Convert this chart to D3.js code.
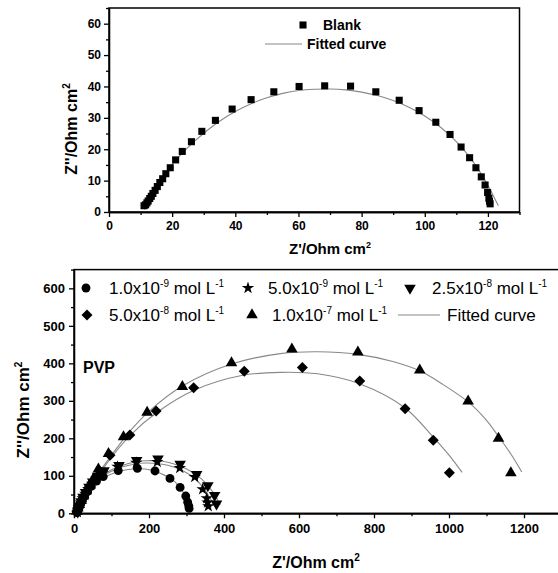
<!DOCTYPE html>
<meta charset="utf-8">
<title>Nyquist plots</title>
<style>
body {
  margin: 0;
  background: #fff;
}

svg {
  display: block;
  font-family: "Liberation Sans", Arial, sans-serif;
}

.tick text {
  font-weight: bold;
  fill: #000;
}

.axis path, .axis line {
  stroke: #000;
  stroke-width: 1.3;
}

.fit {
  fill: none;
  stroke: #888;
  stroke-width: 1.1;
}

.frame {
  fill: none;
  stroke: #000;
  stroke-width: 1.5;
}
</style>
<body>
<svg width="558" height="573"></svg>

<script src="https://d3js.org/d3.v7.min.js"></script>
<script>
// ---- top panel: blank electrode, [Z', Z''] ----
var blankPts = [[11.1,2.0],[11.6,2.3],[12.0,2.9],[12.4,3.5],[12.9,4.3],[13.4,5.0],[13.9,5.9],
  [14.6,6.9],[15.3,8.1],[16.1,9.4],[17.0,10.6],[18.0,12.2],[19.4,14.1],[21.1,16.6],[23.2,19.3],
  [26.1,22.4],[29.4,25.7],[33.7,29.2],[39.0,32.8],[45.0,35.8],[52.2,38.3],[60.2,40.0],[68.3,40.2],
  [76.5,40.1],[84.5,38.3],[91.9,35.6],[98.2,32.3],[103.5,28.6],[108.0,24.7],[111.5,20.7],
  [114.2,17.3],[116.2,14.1],[117.9,11.2],[119.1,8.6],[119.9,6.2],[120.3,4.4],[120.5,3.4],[120.7,2.6]];

var blankFit = [[11.2,0.8],[12,2.6],[13,4.6],[14,6.5],[16,9.8],[18,12.6],[20,15.2],[25,20.6],
  [30,25.1],[35,28.9],[40,32.0],[45,34.5],[50,36.4],[55,37.8],[60,38.7],[65,39.1],[70,39.2],
  [75,38.9],[80,38.2],[85,37.1],[90,35.5],[95,33.4],[100,30.6],[105,27.0],[110,22.4],[114,17.8],
  [117,13.5],[119.5,9.4],[121.5,5.6],[123.3,2.0]];

var topXTicks = [0, 20, 40, 60, 80, 100, 120];
var topYTicks = [0, 10, 20, 30, 40, 50, 60];

// ---- bottom panel: PVP at five concentrations ----
var mantissa = ["1.0", "5.0", "2.5", "5.0", "1.0"];
var exponent = ["-9", "-9", "-8", "-8", "-7"];

var pvp1 = [[8,2],[10,8],[13,16],[17,25],[22,35],[28,46],[36,58],[46,72],[60,86],[78,98],
  [118,114],[169,120],[216,113],[256,93],[283,69],[298,46],[303,30],[306,20],[307,13]];
var pvp2 = [[9,3],[11,10],[14,19],[18,29],[23,40],[30,52],[38,65],[48,79],[60,93],[76,107],
  [116,124],[166,135],[222,137],[282,121],[322,97],[343,64],[354,40],[356,29],[358,19]];
var pvp3 = [[10,4],[12,11],[15,20],[19,31],[24,43],[31,56],[40,70],[50,84],[63,99],[80,114],
  [120,128],[167,141],[224,145],[283,131],[327,104],[357,74],[375,48],[380,25]];
var pvp4 = [[8,4],[11,12],[15,21],[20,31],[26,43],[33,56],[42,71],[52,86],[69,112],[96,155],
  [149,209],[219,273],[319,335],[454,379],[609,389],[762,353],[883,279],[958,195],[1001,108]];
var pvp5 = [[7,6],[10,14],[14,23],[19,34],[25,46],[32,59],[40,73],[50,89],[65,118],[92,159],
  [132,204],[195,269],[289,338],[420,401],[581,438],[757,430],[922,382],[1051,299],[1132,200],[1165,108]];

var fit1 = [[6,0],[12,12],[20,28],[30,45],[45,65],[60,80],[80,95],[100,105],[130,114],[160,118],
  [190,118],[220,111],[250,97],[270,83],[285,66],[296,46],[302,28],[306,10]];
var fit2 = [[6,0],[12,12],[20,28],[30,46],[45,68],[60,85],[80,101],[100,112],[130,124],[160,131],
  [190,134],[220,133],[250,128],[280,118],[310,102],[335,80],[352,58],[364,38],[372,20]];
var fit3 = [[6,0],[12,12],[20,28],[30,46],[45,68],[60,86],[80,103],[100,116],[130,128],[160,136],
  [190,140],[220,140],[250,136],[280,127],[310,113],[340,92],[362,68],[378,45],[390,22]];
var fit4 = [[8,0],[15,15],[25,35],[40,60],[60,92],[80,122],[100,150],[150,208],[220,268],[320,328],
  [450,368],[550,376],[650,372],[763,345],[883,281],[958,203],[1000,155],[1035,109]];
var fit5 = [[6,0],[15,18],[25,38],[40,64],[60,98],[80,128],[100,155],[150,220],[200,272],[290,340],
  [420,398],[550,426],[650,431],[757,424],[850,405],[922,380],[980,346],[1051,297],[1100,248],
  [1132,205],[1165,158],[1194,110]];

var bottomXTicks = [0, 200, 400, 600, 800, 1000, 1200];
var bottomYTicks = [0, 100, 200, 300, 400, 500, 600];

var svg = d3.select("svg");
var plain = d3.format("d");

// symbol shapes per series
var squareSym = d3.symbol().type(d3.symbolSquare).size(50);
var shapes = [
  {sym: d3.symbol().type(d3.symbolCircle).size(62), rot: 0},
  {sym: d3.symbol().type(d3.symbolStar).size(48), rot: 0},
  {sym: d3.symbol().type(d3.symbolTriangle).size(58), rot: 180},
  {sym: d3.symbol().type(d3.symbolSquare).size(60), rot: 45},
  {sym: d3.symbol().type(d3.symbolTriangle).size(58), rot: 0}
];

function sup(text, base, power, fs) {
  // base text followed by a small raised number
  text.append("tspan").text(base);
  text.append("tspan").attr("font-size", fs).attr("dy", -fs * 0.7).text(power);
}

/*********** top panel ***********/
var xT = d3.scaleLinear().domain([0, 130]).range([109, 519.5]);
var yT = d3.scaleLinear().domain([0, 65]).range([212, 8]);

svg.append("rect").attr("class", "frame")
    .attr("x", 109).attr("y", 8).attr("width", 410.5).attr("height", 204);

svg.append("g").attr("class", "axis")
    .attr("transform", "translate(0,212)")
    .call(d3.axisBottom(xT).tickValues(d3.range(10, 131, 20)).tickSize(3).tickSizeOuter(0).tickFormat(""));
svg.append("g").attr("class", "axis")
    .attr("transform", "translate(0,212)")
    .call(d3.axisBottom(xT).tickValues(topXTicks).tickSize(5).tickSizeOuter(0).tickPadding(4))
    .selectAll("text").attr("font-size", 12);

svg.append("g").attr("class", "axis")
    .attr("transform", "translate(109,0)")
    .call(d3.axisLeft(yT).tickValues(d3.range(5, 66, 10)).tickSize(3).tickSizeOuter(0).tickFormat(""));
svg.append("g").attr("class", "axis")
    .attr("transform", "translate(109,0)")
    .call(d3.axisLeft(yT).tickValues(topYTicks).tickSize(5).tickSizeOuter(0).tickPadding(3))
    .selectAll("text").attr("font-size", 12);

var line = d3.line().curve(d3.curveCatmullRom);

svg.append("path").attr("class", "fit")
    .attr("d", line.x(function(d) { return xT(d[0]); }).y(function(d) { return yT(d[1]); })(blankFit));

svg.append("g").selectAll("path")
  .data(blankPts)
  .enter().append("path")
    .attr("d", squareSym)
    .attr("transform", function(d) { return "translate(" + xT(d[0]) + "," + yT(d[1]) + ")"; });

// top legend
svg.append("path").attr("d", squareSym).attr("transform", "translate(303,25)");
svg.append("text").attr("x", 323).attr("y", 30).attr("font-size", 14).attr("font-weight", "bold").text("Blank");
svg.append("line").attr("class", "fit").attr("x1", 265).attr("x2", 302).attr("y1", 44).attr("y2", 44);
svg.append("text").attr("x", 307).attr("y", 49).attr("font-size", 14).attr("font-weight", "bold").text("Fitted curve");

// top axis titles
var tx = svg.append("text").attr("x", 330).attr("y", 254).attr("text-anchor", "middle")
    .attr("font-size", 15).attr("font-weight", "bold");
sup(tx, "Z'/Ohm cm", "2", 9);

var ty = svg.append("text").attr("transform", "translate(77,129) rotate(-90)").attr("text-anchor", "middle")
    .attr("font-size", 16).attr("font-weight", "bold");
sup(ty, "Z''/Ohm cm", "2", 10);

/*********** bottom panel ***********/
var xB = d3.scaleLinear().domain([0, 1300]).range([74, 561.5]);
var yB = d3.scaleLinear().domain([0, 650]).range([513.3, 269.6]);

svg.append("rect").attr("class", "frame")
    .attr("x", 74).attr("y", 269.6).attr("width", 487.5).attr("height", 243.7);

svg.append("g").attr("class", "axis")
    .attr("transform", "translate(0,513.3)")
    .call(d3.axisBottom(xB).tickValues(d3.range(100, 1301, 200)).tickSize(3).tickSizeOuter(0).tickFormat(""));
svg.append("g").attr("class", "axis")
    .attr("transform", "translate(0,513.3)")
    .call(d3.axisBottom(xB).tickValues(bottomXTicks).tickSize(5).tickSizeOuter(0).tickPadding(5).tickFormat(plain))
    .selectAll("text").attr("font-size", 13);

svg.append("g").attr("class", "axis")
    .attr("transform", "translate(74,0)")
    .call(d3.axisLeft(yB).tickValues(d3.range(50, 651, 100)).tickSize(3).tickSizeOuter(0).tickFormat(""));
svg.append("g").attr("class", "axis")
    .attr("transform", "translate(74,0)")
    .call(d3.axisLeft(yB).tickValues(bottomYTicks).tickSize(5).tickSizeOuter(0).tickPadding(4).tickFormat(plain))
    .selectAll("text").attr("font-size", 13);

var lineB = d3.line().curve(d3.curveCatmullRom)
    .x(function(d) { return xB(d[0]); })
    .y(function(d) { return yB(d[1]); });

var fits = [fit1, fit2, fit3, fit4, fit5];
var series = [pvp1, pvp2, pvp3, pvp4, pvp5];

svg.append("g").selectAll("path")
  .data(fits)
  .enter().append("path")
    .attr("class", "fit")
    .attr("d", lineB);

series.forEach(function(pts, i) {
  svg.append("g").selectAll("path")
    .data(pts)
    .enter().append("path")
      .attr("d", shapes[i].sym)
      .attr("transform", function(d) {
        return "translate(" + xB(d[0]) + "," + yB(d[1]) + ") rotate(" + shapes[i].rot + ")";
      });
});

// bottom legend
var legendPos = [[86, 288, 109], [248, 288, 268], [410, 288, 432], [87, 315, 109], [252, 315, 272]];
legendPos.forEach(function(p, i) {
  svg.append("path").attr("d", shapes[i].sym)
      .attr("transform", "translate(" + p[0] + "," + p[1] + ") rotate(" + shapes[i].rot + ")");
  var t = svg.append("text").attr("x", p[2]).attr("y", p[1] + 6).attr("font-size", 17);
  t.append("tspan").text(mantissa[i] + "x10");
  t.append("tspan").attr("font-size", 10).attr("dy", -7).text(exponent[i]);
  t.append("tspan").attr("dy", 7).text(" mol L");
  t.append("tspan").attr("font-size", 10).attr("dy", -7).text("-1");
});
svg.append("line").attr("class", "fit").attr("x1", 398).attr("x2", 440).attr("y1", 315).attr("y2", 315);
svg.append("text").attr("x", 447).attr("y", 321).attr("font-size", 17).text("Fitted curve");

svg.append("text").attr("x", 83).attr("y", 373).attr("font-size", 16).attr("font-weight", "bold").text("PVP");

// bottom axis titles
var bx = svg.append("text").attr("x", 316).attr("y", 568).attr("text-anchor", "middle")
    .attr("font-size", 16).attr("font-weight", "bold");
sup(bx, "Z'/Ohm cm", "2", 10);

var by = svg.append("text").attr("transform", "translate(29,410) rotate(-90)").attr("text-anchor", "middle")
    .attr("font-size", 17).attr("font-weight", "bold");
sup(by, "Z''/Ohm cm", "2", 10);
</script>
</body>
